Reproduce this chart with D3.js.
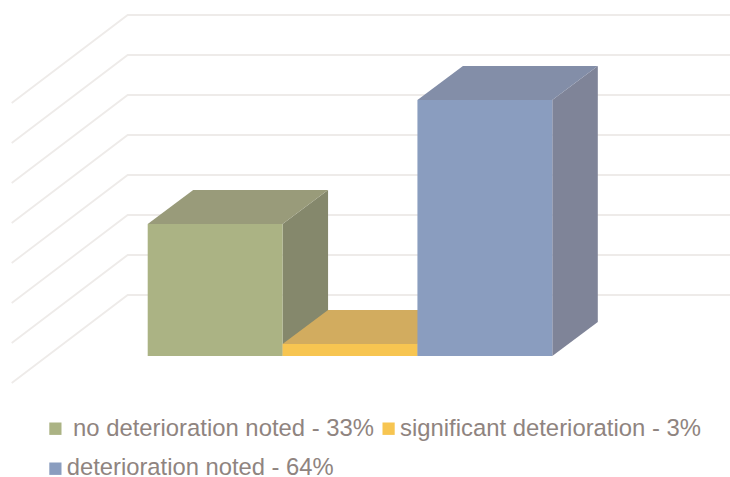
<!DOCTYPE html>
<html>
<head>
<meta charset="utf-8">
<script src="https://cdn.jsdelivr.net/npm/d3@7"></script>
<style>
  html, body { margin: 0; padding: 0; background: #fff; }
  svg { display: block; }
  text { font-family: "Liberation Sans", Arial, sans-serif; }
</style>
</head>
<body>
<svg id="chart" width="730" height="477"></svg>
<script>
// Outcome shares, in percent
const categories = ["no deterioration noted", "significant deterioration", "deterioration noted"];
const values = [33, 3, 64];
const gridTicks = [0, 10, 20, 30, 40, 50, 60, 70];

const frontColors = ["#ABB384", "#F7C551", "#8A9DBF"];
const topColors = ["#999B7A", "#D2AC5F", "#838EA8"];
const sideColors = ["#85886C", "#C9A455", "#7F8498"];
const gridColor = "#EEEBE9";
const textColor = "#8F8480";

const svg = d3.select("#chart");

const x = d3.scaleBand().domain(categories).range([147.7, 552.3]).padding(0);
const y = d3.scaleLinear().domain([0, 70]).range([356, 76]);

// Oblique projection: bar depth, and the offsets of the walls from the bar front
const depth = { dx: 45.5, dy: -34 };
const wallBack = { dx: -20.5, dy: -61 };
const wallLeftX = 11.7, wallCornerX = 127.7, wallSlope = -88 / 116;

// Gridlines run across the back wall and then down the side wall
const gridG = svg.append("g").attr("fill", "none").attr("stroke", gridColor).attr("stroke-width", 1.8);
gridG.selectAll("path").data(gridTicks).join("path").attr("d", t => {
  const yBack = y(t) + wallBack.dy;
  const p = d3.path();
  p.moveTo(wallLeftX, yBack + (wallCornerX - wallLeftX) * -wallSlope);
  p.lineTo(wallCornerX, yBack);
  p.lineTo(730, yBack);
  return p.toString();
});

// Bars are drawn left to right so each one overlaps its predecessor's side face
const line = d3.line();
const bars = svg.append("g").selectAll("g").data(categories).join("g");

bars.each(function (c, i) {
  const g = d3.select(this);
  const x0 = x(c), x1 = x0 + x.bandwidth();
  const yTop = y(values[i]), yBase = y(0);
  const d = depth;
  g.append("path").attr("fill", sideColors[i]).attr("d", line([
    [x1, yTop], [x1 + d.dx, yTop + d.dy], [x1 + d.dx, yBase + d.dy], [x1, yBase]
  ]) + "Z");
  g.append("path").attr("fill", topColors[i]).attr("d", line([
    [x0, yTop], [x0 + d.dx, yTop + d.dy], [x1 + d.dx, yTop + d.dy], [x1, yTop]
  ]) + "Z");
  g.append("rect").attr("fill", frontColors[i])
    .attr("x", x0).attr("y", yTop).attr("width", x1 - x0).attr("height", yBase - yTop);
});

// Legend wraps onto a second row, as placed below
const legendPlacement = [
  { sx: 49.3, sy: 422.5, tx: 73, ty: 435.5, w: 301 },
  { sx: 382.5, sy: 422.5, tx: 400, ty: 435.5, w: 301 },
  { sx: 49.3, sy: 462.5, tx: 66.7, ty: 475, w: 267 }
];
const legend = svg.append("g").selectAll("g").data(categories).join("g");
legend.append("rect")
  .attr("x", (c, i) => legendPlacement[i].sx)
  .attr("y", (c, i) => legendPlacement[i].sy)
  .attr("width", 12.2).attr("height", 12.4)
  .attr("fill", (c, i) => frontColors[i]);
legend.append("text")
  .attr("x", (c, i) => legendPlacement[i].tx)
  .attr("y", (c, i) => legendPlacement[i].ty)
  .attr("font-size", 24.5)
  .attr("fill", textColor)
  .attr("textLength", (c, i) => legendPlacement[i].w)
  .attr("lengthAdjust", "spacingAndGlyphs")
  .text((c, i) => `${c} - ${values[i]}%`);
</script>
</body>
</html>
